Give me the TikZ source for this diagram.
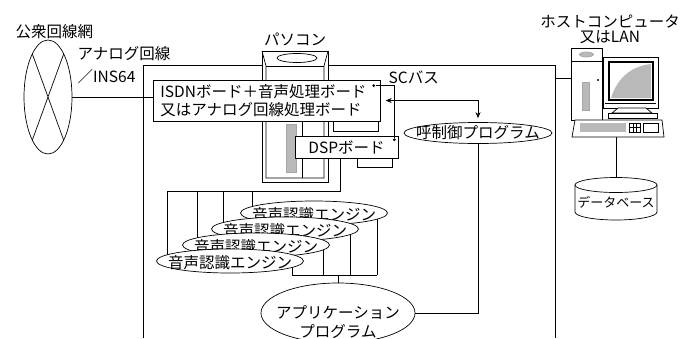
\documentclass[tikz,border=0pt]{standalone}
\usepackage{fontspec}
\setmainfont{Noto Sans CJK JP}
\usetikzlibrary{positioning,arrows.meta,shapes.geometric,backgrounds}

\begin{document}
\begin{tikzpicture}[
      x=1pt, y=-1pt,
      font=\fontsize{15.5}{18.5}\selectfont,
      line width=0.7pt,
      board/.style={draw, fill=white, inner xsep=7pt, inner ysep=0pt, align=left},
      oval/.style={draw, ellipse, fill=white, inner sep=0pt},
      engine/.style={oval, minimum width=147pt, minimum height=24pt, label={[yshift=-2pt]center:音声認識エンジン}},
      port/.style={fill, circle, inner sep=0pt, minimum size=3pt},
      shade/.style={fill=gray!55, draw=gray!70},
      arr/.style={{Stealth[length=6pt,width=5pt]}-{Stealth[length=6pt,width=5pt]}, shorten <=5pt, shorten >=4pt}
  ]
    \useasboundingbox (0,0) rectangle (681,338);
    \clip (0,0) rectangle (681,338);

    % public network
    \node[anchor=west] (pstnname) at (12,32) {公衆回線網};
    \node[oval, minimum width=48pt, minimum height=114pt] (pstn) at (48,97) {};
    \draw (pstn.110) -- (pstn.290) (pstn.70) -- (pstn.250);
    \node[anchor=west, align=left, font=\fontsize{15.5}{23}\selectfont] (linetype) at (74,65.5) {アナログ回線\\／INS64};

    % the PC tower with its boards
    \node (pcname) at (295,39) {パソコン};
    \draw[fill=white] (262,51) rectangle (328,182);
    \draw (262,51) -- (266,66) -- (266,178) -- (324,178) -- (324,66) -- (328,51);
    \draw (266,66) -- (324,66);
    \draw[fill=white] (297,58) ellipse[x radius=20pt, y radius=4.5pt];
    \draw[shade] (286,124) rectangle (296,172);
    \draw (302,122) -- (302,178);
    \draw (333,121) |- (378,131) -- (378,121);
    \draw (357,158) |- (392,167) -- (392,158);

    \node[board, text width=213pt, minimum height=41pt, anchor=west] (isdn) at (153,100.5) {ISDNボード＋音声処理ボード\\又はアナログ回線処理ボード};
    \node[board, minimum width=103pt, minimum height=22pt, align=center] (dsp) at (346.5,147) {DSPボード};
    \node[port] (isdnport) at ([shift={(-7pt,-6pt)}]isdn.north east) {};
    \node[port] (dspport) at ([shift={(-4pt,-4pt)}]dsp.north east) {};
    \draw (isdnport) -| (dspport);

    \node[anchor=west] (scbus) at (385,77) {SCバス};
    \node[oval, minimum width=148pt, minimum height=21pt, label={center:呼制御プログラム}] (callctl) at (478,133) {};
    \draw[arr] (isdn.east) -| (callctl.north);

    % speech engines, back to front
    \foreach \i/\x/\y in {1/314/213, 2/285/229, 3/256/245, 4/230/261}
      \node[engine] (eng\i) at (\x,\y) {};
    \node[oval, minimum width=154pt, minimum height=60pt, label={[align=center, yshift=-9pt]center:アプリケーション\\プログラム}] (app) at (338,313) {};

    % host side
    \node[align=center, font=\fontsize{15.5}{15}\selectfont] (hostname) at (610,29.5) {ホストコンピュータ\\又はLAN};
    \node[draw, fill=white, minimum width=31pt, minimum height=72pt, inner sep=0pt] (hostpc) at (586.5,84) {};
    \draw (571,61) -- (602,61);
    \draw[shade] (586.5,54.5) ellipse[x radius=7pt, y radius=2.5pt];
    \draw[shade] (582,82) rectangle (589,110);
    \fill (598,80) circle[radius=1.2pt];
    \draw[fill=white] (603,57) rectangle (658,108);
    \draw[line width=1.6pt] (609,62) rectangle (653,100);
    \fill[gray!55] (611,98) .. controls (618,76) and (633,66) .. (651,64) -- (651,98) -- cycle;
    \draw (605,103) -- (656,103);
    \draw[fill=white] (618,108) -- (646,108) -- (652,113) -- (612,113) -- cycle;
    \draw[fill=white] (608,113) rectangle (657,118);
    \draw[fill=white] (575,120) -- (662,120) -- (664,137) -- (572,137) -- cycle;
    \fill[gray!55] (580,123) rectangle (626,132);
    \draw (629,123) rectangle (640,132) (633,123) -- (633,132) (636.5,123) -- (636.5,132) (629,127.5) -- (640,127.5);
    \draw (643,123) rectangle (658,132);
    \coordinate (kbd) at (616,137);

    \draw[fill=white] (575,185) -- (575,212) arc[start angle=180, end angle=360, x radius=41pt, y radius=8pt] -- (657,185);
    \draw[fill=white] (616,185) ellipse[x radius=41pt, y radius=7.5pt];
    \node[minimum width=82pt, minimum height=43pt, inner sep=0pt, label={[font=\fontsize{13}{15}\selectfont, yshift=-3.5pt]center:データベース}] (db) at (616,198.5) {};

    \begin{scope}[on background layer]
      \fill[white] (0,0) rectangle (681,338);
      % frame of the system, open at the bottom
      \draw (143,338) -- (143,65) -- (555,65) -- (555,338);
      \draw (pstn.east) -- (pstn.east -| isdn.west);
      \coordinate (sclink) at (555,78);
      \draw (sclink) -- (sclink -| hostpc.west);
      \draw (kbd) -- (kbd |- db.north);
      % engine buses
      \coordinate (tbus) at (167,191);
      \coordinate (bbus) at (292,275);
      \draw ([xshift=-6.5pt]dsp.south) |- (tbus);
      \draw (bbus) -- (377,275);
      \foreach \i/\dl/\dr in {1/252/377, 2/223/350, 3/197/323, 4/167/292}
        \draw (\dl,191) |- (eng\i.center) -| (\dr,275);
      \draw (app.north) -- (app.north |- bbus);
      \draw (callctl.south) |- (app.east);
    \end{scope}
  \end{tikzpicture}
\end{document}
